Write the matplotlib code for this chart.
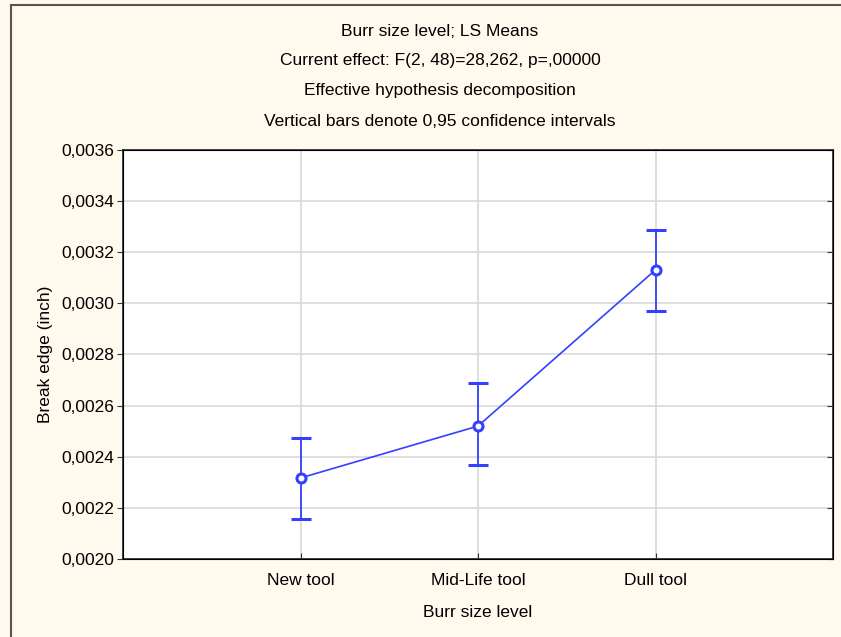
import matplotlib.pyplot as plt
import matplotlib.ticker as mticker
from matplotlib.lines import Line2D
import numpy as np

plt.rcParams['font.family'] = ['Liberation Sans', 'DejaVu Sans']

levels = ['New tool', 'Mid-Life tool', 'Dull tool']
means = [0.002317, 0.002520, 0.003131]
ci_low = [0.002156, 0.002368, 0.002970]
ci_high = [0.002473, 0.002689, 0.003287]

titles = ['Burr size level; LS Means',
          'Current effect: F(2, 48)=28,262, p=,00000',
          'Effective hypothesis decomposition',
          'Vertical bars denote 0,95 confidence intervals']

bg = '#fff9ee'
blue = '#3340ff'
fs = 12.5

fig = plt.figure(figsize=(8.41, 6.37), dpi=100, facecolor=bg)
ax = fig.add_axes([123 / 841, 1 - 559 / 637, 710 / 841, 409 / 637])
ax.set_facecolor('white')

x = np.arange(len(levels))
m = np.array(means)
err = [m - np.array(ci_low), np.array(ci_high) - m]
ax.errorbar(x, m, yerr=err, color=blue, lw=1.2, elinewidth=1.3, capsize=7,
            capthick=1.3, marker='o', markersize=6.5, markerfacecolor='white',
            markeredgecolor=blue, markeredgewidth=2.2, zorder=3)

yticks = np.arange(0.0020, 0.00361, 0.0002)
ax.set_xlim(-1, 3)
ax.set_ylim(0.0020, 0.0036)
ax.set_xticks(x)
ax.set_xticklabels(levels)
ax.set_yticks(yticks)
ax.yaxis.set_major_formatter(mticker.FuncFormatter(lambda v, p: f'{v:.4f}'.replace('.', ',')))

ax.grid(True, color='#d9d9d9', lw=1.2, zorder=0)
ax.set_axisbelow(True)
for s in ax.spines.values():
    s.set_color('#333333')
    s.set_linewidth(1.3)

ax.tick_params(axis='y', direction='out', length=4, color='#333333',
               labelsize=fs, pad=2)
ax.tick_params(axis='x', direction='in', length=4, color='#333333', labelsize=fs, pad=10)
ax.set_xlabel('Burr size level', fontsize=fs, labelpad=12)
ax.set_ylabel('Break edge (inch)', fontsize=fs, labelpad=6)

# inward ticks on the right side
ax2 = ax.twinx()
ax2.set_ylim(ax.get_ylim())
ax2.set_yticks(yticks)
ax2.tick_params(axis='y', direction='in', length=4, color='#333333', labelright=False)

for i, t in enumerate(titles):
    fig.text(440 / 841, 1 - (31 + 30 * i) / 637, t, ha='center', va='center', fontsize=fs)

# frame lines at top and left edge
fig.add_artist(Line2D([11 / 841, 1], [1 - 5 / 637, 1 - 5 / 637], color='#555555', lw=1.5))
fig.add_artist(Line2D([11 / 841, 11 / 841], [0, 1 - 5 / 637], color='#555555', lw=1.5))

fig.savefig('out.png', dpi=100, facecolor=bg)
